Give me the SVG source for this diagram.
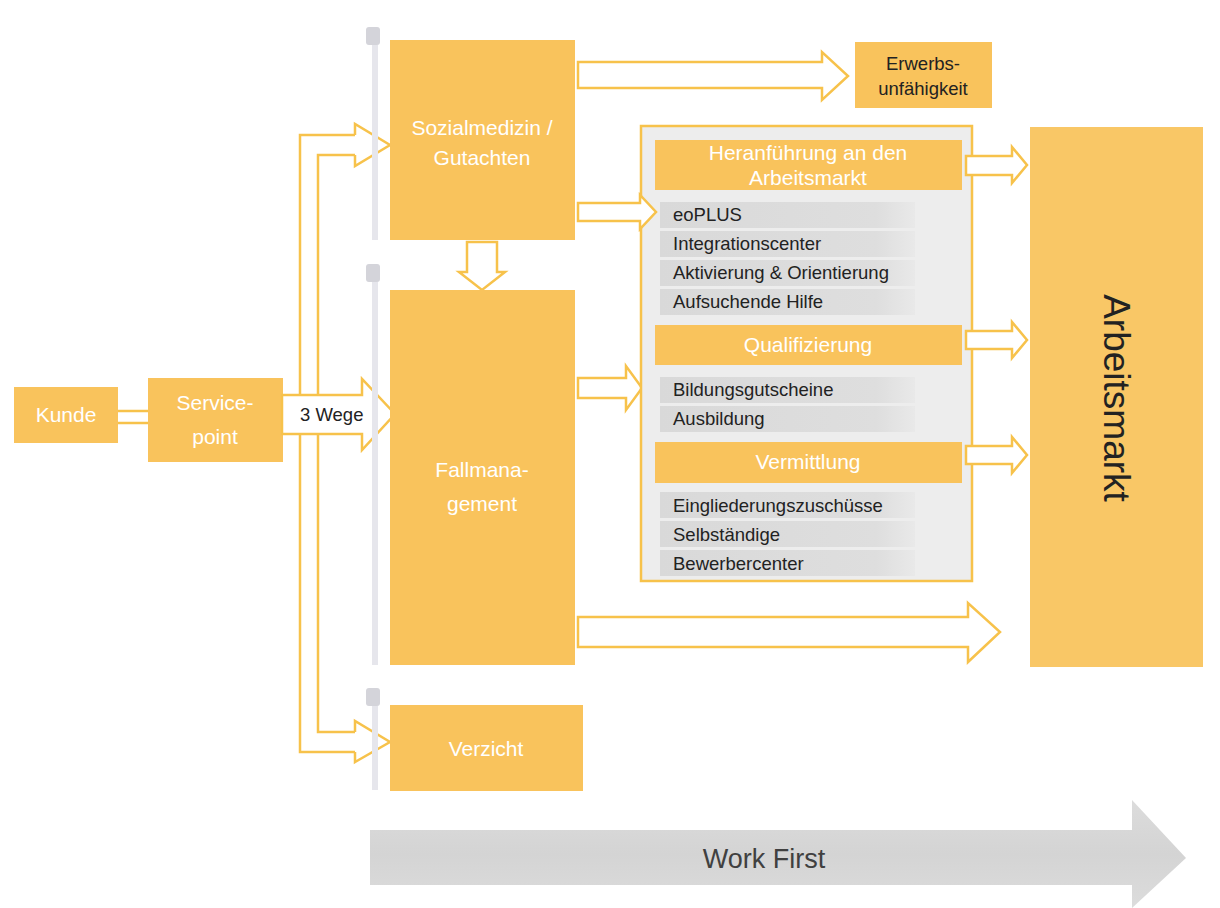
<svg xmlns="http://www.w3.org/2000/svg" width="1220" height="908" viewBox="0 0 1220 908">
<defs>
<linearGradient id="row" x1="0" y1="0" x2="1" y2="0">
<stop offset="0" stop-color="#D9D9D9"/><stop offset="0.85" stop-color="#DEDEDE"/><stop offset="1" stop-color="#E9E9E9"/>
</linearGradient>
<linearGradient id="wf" x1="0" y1="0" x2="0" y2="1">
<stop offset="0" stop-color="#DCDCDC"/><stop offset="0.5" stop-color="#D4D4D4"/><stop offset="1" stop-color="#DCDCDC"/>
</linearGradient>
</defs>
<style>
.box{fill:#F9C35C;}
.out{fill:#FFFFFF;stroke:#F7C24B;stroke-width:2.5;stroke-linejoin:miter;}
.ln{fill:none;stroke:#F7C24B;stroke-width:2.5;}
.wt{font-family:"Liberation Sans",Arial,sans-serif;font-size:21px;fill:#FFFFFF;text-anchor:middle;}
.bt{font-family:"Liberation Sans",Arial,sans-serif;font-size:18.5px;fill:#222222;}
.hd{fill:#D4D4DA;}
.bar{fill:#E6E6EC;}
.row{fill:url(#row);}
</style>
<rect width="1220" height="908" fill="#FFFFFF"/>

<g id="connectors">
<line class="ln" x1="118" y1="411" x2="148" y2="411"/>
<line class="ln" x1="118" y1="423" x2="148" y2="423"/>
<path class="ln" d="M355,752 L300,752 L300,135 L355,135 M355,732 L318,732 L318,155 L355,155"/>
<path class="out" d="M355,135 L355,124 L390,145 L355,166 L355,155"/>
<path class="out" d="M355,752 L355,762 L390,742 L355,721 L355,732"/>
<path class="out" d="M578,62 L822,62 L822,52 L848,76 L822,100 L822,88 L578,88 Z"/>
<path class="out" d="M467,242 L497,242 L497,272 L505,272 L482,290 L459,272 L467,272 Z"/>
<path class="out" d="M578,378 L626,378 L626,366 L642,388 L626,410 L626,398 L578,398 Z"/>
<path class="out" d="M578,617 L968,617 L968,603 L1000,632 L968,662 L968,647 L578,647 Z"/>
</g>

<g id="n-kunde">
<rect class="box" x="14" y="387" width="104" height="56"/>
<text class="wt" x="66" y="422">Kunde</text>
</g>

<g id="n-servicepoint">
<rect class="box" x="148" y="378" width="135" height="84"/>
<text class="wt" x="215" y="410">Service-</text>
<text class="wt" x="215" y="444">point</text>
</g>

<g id="n-3wege">
<path class="out" d="M282,395 L362,395 L362,379 L395,414 L362,450 L362,434 L282,434 Z"/>
<text class="bt" x="300" y="421" font-size="18">3 Wege</text>
</g>

<g id="n-gutachten">
<rect class="bar" x="372" y="45" width="6" height="195"/>
<rect class="hd" x="366" y="27" width="14" height="18" rx="3"/>
<rect class="box" x="390" y="40" width="185" height="200"/>
<text class="wt" x="482" y="135">Sozialmedizin /</text>
<text class="wt" x="482" y="165">Gutachten</text>
</g>

<g id="n-fallmanagement">
<rect class="bar" x="372" y="282" width="6" height="383"/>
<rect class="hd" x="366" y="264" width="14" height="18" rx="3"/>
<rect class="box" x="390" y="290" width="185" height="375"/>
<text class="wt" x="482" y="477">Fallmana-</text>
<text class="wt" x="482" y="511">gement</text>
</g>

<g id="n-verzicht">
<rect class="bar" x="372" y="706" width="6" height="84"/>
<rect class="hd" x="366" y="688" width="14" height="18" rx="3"/>
<rect class="box" x="390" y="705" width="193" height="86"/>
<text class="wt" x="486" y="756">Verzicht</text>
</g>

<g id="n-erwerbsunfaehigkeit">
<rect class="box" x="855" y="42" width="137" height="66"/>
<text class="bt" x="923" y="70" text-anchor="middle">Erwerbs-</text>
<text class="bt" x="923" y="95" text-anchor="middle">unfähigkeit</text>
</g>

<g id="n-massnahmen">
<rect x="641" y="126" width="331" height="455" fill="#EDEDED" stroke="#F7C24B" stroke-width="2.5"/>
<rect class="box" x="655" y="140" width="307" height="50"/>
<text class="wt" x="808" y="160">Heranführung an den</text>
<text class="wt" x="808" y="185">Arbeitsmarkt</text>
<rect class="row" x="660" y="202" width="255" height="26"/>
<rect class="row" x="660" y="231" width="255" height="26"/>
<rect class="row" x="660" y="260" width="255" height="26"/>
<rect class="row" x="660" y="289" width="255" height="26"/>
<text class="bt" x="673" y="221">eoPLUS</text>
<text class="bt" x="673" y="250">Integrationscenter</text>
<text class="bt" x="673" y="279">Aktivierung &amp; Orientierung</text>
<text class="bt" x="673" y="308">Aufsuchende Hilfe</text>
<rect class="box" x="655" y="325" width="307" height="40"/>
<text class="wt" x="808" y="352">Qualifizierung</text>
<rect class="row" x="660" y="377" width="255" height="26"/>
<rect class="row" x="660" y="406" width="255" height="26"/>
<text class="bt" x="673" y="396">Bildungsgutscheine</text>
<text class="bt" x="673" y="425">Ausbildung</text>
<rect class="box" x="655" y="442" width="307" height="41"/>
<text class="wt" x="808" y="469">Vermittlung</text>
<rect class="row" x="660" y="492" width="255" height="26"/>
<rect class="row" x="660" y="521" width="255" height="26"/>
<rect class="row" x="660" y="550" width="255" height="26"/>
<text class="bt" x="673" y="512">Eingliederungszuschüsse</text>
<text class="bt" x="673" y="541">Selbständige</text>
<text class="bt" x="673" y="570">Bewerbercenter</text>
</g>

<g id="connectors-2">
<path class="out" d="M578,203 L640,203 L640,195 L656,212 L640,229 L640,221 L578,221 Z"/>
<path class="out" d="M966,156 L1012,156 L1012,147 L1027,165 L1012,183 L1012,175 L966,175 Z"/>
<path class="out" d="M966,331 L1012,331 L1012,322 L1027,340 L1012,358 L1012,349 L966,349 Z"/>
<path class="out" d="M966,446 L1012,446 L1012,437 L1027,455 L1012,473 L1012,464 L966,464 Z"/>
</g>

<g id="n-arbeitsmarkt">
<rect x="1030" y="127" width="173" height="540" fill="#F9C766"/>
<text x="1116" y="398" transform="rotate(90 1116 398)" font-family="'Liberation Sans',Arial,sans-serif" font-size="37" fill="#222222" text-anchor="middle" dominant-baseline="central">Arbeitsmarkt</text>
</g>

<g id="n-workfirst">
<path d="M370,830 L1132,830 L1132,800 L1186,858 L1132,908 L1132,885 L370,885 Z" fill="url(#wf)"/>
<text x="764" y="868" font-family="'Liberation Sans',Arial,sans-serif" font-size="27" fill="#404040" text-anchor="middle">Work First</text>
</g>
</svg>
